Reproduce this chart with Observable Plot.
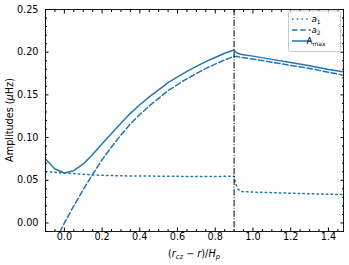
<!DOCTYPE html>
<html>
<head>
<meta charset="utf-8">
<script src="https://cdn.jsdelivr.net/npm/d3@7"></script>
<script src="https://cdn.jsdelivr.net/npm/@observablehq/plot@0.6"></script>
<style>
  html, body { margin: 0; padding: 0; background: white; }
  #chart { width: 349px; height: 265px; }
</style>
</head>
<body>
<div id="chart"></div>
<script>
// ---- data ----
const xs = [-0.1, -0.05, 0.0, 0.05, 0.1, 0.15, 0.2, 0.25, 0.3, 0.35, 0.4, 0.45, 0.5, 0.55, 0.6, 0.65, 0.7, 0.75, 0.8, 0.85, 0.9,
            0.905, 0.91, 0.92, 0.935, 0.95, 1.0, 1.1, 1.2, 1.3, 1.4, 1.48];
const a1 = [0.0600, 0.0593, 0.0585, 0.0578, 0.0570, 0.0563, 0.0558, 0.0555, 0.0552, 0.0551, 0.0550, 0.0549, 0.0548, 0.0547, 0.0546, 0.0545, 0.0545, 0.0545, 0.0545, 0.0546, 0.0547,
            0.0490, 0.0450, 0.0400, 0.0370, 0.0366, 0.0362, 0.0355, 0.0348, 0.0342, 0.0336, 0.0332];
const a2 = [-0.045, -0.022, 0.000, 0.020, 0.039, 0.057, 0.074, 0.089, 0.103, 0.116, 0.127, 0.137, 0.146, 0.155, 0.162, 0.169, 0.175, 0.181, 0.186, 0.191, 0.195,
            0.1950, 0.1949, 0.1946, 0.1941, 0.1936, 0.1920, 0.1883, 0.1845, 0.1810, 0.1765, 0.1730];
const amax = [0.0750, 0.0632, 0.0585, 0.0612, 0.0691, 0.0801, 0.0927, 0.1049, 0.1169, 0.1284, 0.1384, 0.1476, 0.1559, 0.1644, 0.1710, 0.1776, 0.1833, 0.1890, 0.1938, 0.1987, 0.2025,
              0.2011, 0.2000, 0.1987, 0.1976, 0.1970, 0.1954, 0.1916, 0.1878, 0.1842, 0.1797, 0.1770];
const vline = [0.9];
const xDomain = [-0.1, 1.48];
const yDomain = [-0.01, 0.25];
const xMajor = [0.0, 0.2, 0.4, 0.6, 0.8, 1.0, 1.2, 1.4];
const xMinor = [-0.1, -0.05, 0.05, 0.1, 0.15, 0.25, 0.3, 0.35, 0.45, 0.5, 0.55, 0.65, 0.7, 0.75, 0.85, 0.9, 0.95, 1.05, 1.1, 1.15, 1.25, 1.3, 1.35, 1.45];
const yMajor = [0.00, 0.05, 0.10, 0.15, 0.20, 0.25];
const yMinor = [-0.01, 0.01, 0.02, 0.03, 0.04, 0.06, 0.07, 0.08, 0.09, 0.11, 0.12, 0.13, 0.14, 0.16, 0.17, 0.18, 0.19, 0.21, 0.22, 0.23, 0.24];

const blue = "#1f77b4";
const dotted = "1.5,3.2";
const dashed = "5.5,2.7";
const rows = xs.map((x, i) => ({x, a1: a1[i], a2: a2[i], amax: amax[i]}));

const chart = Plot.plot({
  width: 349,
  height: 265,
  marginLeft: 45,
  marginRight: 6,
  marginTop: 9,
  marginBottom: 34,
  x: {domain: xDomain},
  y: {domain: yDomain},
  style: {fontFamily: "DejaVu Sans", fontSize: "9.7px", color: "black", background: "white", overflow: "visible"},
  marks: [
    Plot.line(rows, {x: "x", y: "a1", stroke: blue, strokeWidth: 1.5, strokeDasharray: dotted, clip: true}),
    Plot.line(rows, {x: "x", y: "a2", stroke: blue, strokeWidth: 1.5, strokeDasharray: dashed, clip: true}),
    Plot.line(rows, {x: "x", y: "amax", stroke: blue, strokeWidth: 1.5, clip: true}),
    Plot.ruleX(vline, {stroke: "black", strokeWidth: 1, strokeDasharray: "6.4,1.6,1,1.6"}),
    Plot.frame({stroke: "black", strokeWidth: 0.9}),
    Plot.axisX(xMajor, {anchor: "bottom", tickSize: -3.5, tickPadding: 5.5, tickFormat: d => d.toFixed(1), label: null}),
    Plot.axisX(xMinor, {anchor: "bottom", tickSize: -2, tickFormat: () => "", label: null}),
    Plot.axisX(xMajor, {anchor: "top", tickSize: -3.5, tickFormat: () => "", label: null}),
    Plot.axisX(xMinor, {anchor: "top", tickSize: -2, tickFormat: () => "", label: null}),
    Plot.axisY(yMajor, {anchor: "left", tickSize: -3.5, tickPadding: 10.5, tickFormat: d => d.toFixed(2), label: null}),
    Plot.axisY(yMinor, {anchor: "left", tickSize: -2, tickFormat: () => "", label: null}),
    Plot.axisY(yMajor, {anchor: "right", tickSize: -3.5, tickFormat: () => "", label: null}),
    Plot.axisY(yMinor, {anchor: "right", tickSize: -2, tickFormat: () => "", label: null})
  ]
});
document.getElementById("chart").appendChild(chart);

// ---- axis titles and legend ----
const svg = d3.select(chart);
const font = "DejaVu Sans";

// y label
const yl = svg.append("text")
  .attr("transform", "translate(10,120) rotate(-90)")
  .attr("text-anchor", "middle")
  .attr("dominant-baseline", "middle")
  .attr("font-family", font).attr("font-size", 9.7).attr("fill", "black");
yl.append("tspan").text("Amplitudes (");
yl.append("tspan").attr("font-style", "italic").text("μ");
yl.append("tspan").text("Hz)");

// x label
const xl = svg.append("text")
  .attr("x", 194).attr("y", 257)
  .attr("text-anchor", "middle")
  .attr("font-family", font).attr("font-size", 9.7).attr("fill", "black");
xl.append("tspan").text("(");
xl.append("tspan").attr("font-style", "italic").text("r");
xl.append("tspan").attr("font-style", "italic").attr("font-size", 6.8).attr("dy", 2).text("cz");
xl.append("tspan").attr("dy", -2).text(" − ");
xl.append("tspan").attr("font-style", "italic").text("r");
xl.append("tspan").text(")/");
xl.append("tspan").attr("font-style", "italic").text("H");
xl.append("tspan").attr("font-style", "italic").attr("font-size", 6.8).attr("dy", 2).text("p");

// legend
const lg = svg.append("g");
lg.append("rect").attr("x", 288.5).attr("y", 11).attr("width", 52).attr("height", 40.5).attr("rx", 2)
  .attr("fill", "white").attr("fill-opacity", 0.8).attr("stroke", "#cccccc").attr("stroke-width", 1);
const entries = [
  {dash: dotted, main: "a", sub: "1", italic: true, y: 19},
  {dash: dashed, main: "a", sub: "2", italic: true, y: 30},
  {dash: null, main: "A", sub: "max", italic: false, y: 41}
];
for (const e of entries) {
  const ln = lg.append("line").attr("x1", 292).attr("x2", 311).attr("y1", e.y).attr("y2", e.y)
    .attr("stroke", blue).attr("stroke-width", 1.5);
  if (e.dash) ln.attr("stroke-dasharray", e.dash);
  const t = lg.append("text").attr("x", 316).attr("y", e.y + 3)
    .attr("font-family", font).attr("font-size", 8.8).attr("fill", "black");
  t.append("tspan").attr("font-style", e.italic ? "italic" : "normal").text(e.main);
  t.append("tspan").attr("font-size", 6).attr("dy", 1.8).text(e.sub);
}
</script>
</body>
</html>
